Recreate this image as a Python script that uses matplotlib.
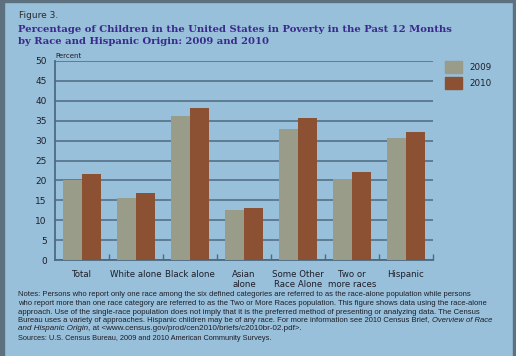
import matplotlib
matplotlib.use("Agg")
import matplotlib.pyplot as plt
from matplotlib.patches import Rectangle
import numpy as np

categories = ["Total", "White alone", "Black alone", "Asian\nalone",
              "Some Other\nRace Alone", "Two or\nmore races", "Hispanic"]
values_2009 = [20.0, 15.7, 36.3, 12.5, 32.8, 20.4, 30.6]
values_2010 = [21.6, 16.9, 38.2, 13.1, 35.6, 22.1, 32.1]
series_labels = ["2009", "2010"]
yticks = [0, 5, 10, 15, 20, 25, 30, 35, 40, 45, 50]

BG = "#98c0da"
C09 = "#999c88"
C10 = "#8c5032"
GRID = "#4e6a80"
TITLE = "#3a2a8c"
TXT = "#1e1e28"

W, H = 516, 356
fig = plt.figure(figsize=(W / 100, H / 100), dpi=100, facecolor=BG)
renderer = fig.canvas.get_renderer()


def fit_text(xpx, ypx, s, target_w, size0, **kw):
    tx = fig.text(xpx / W, 1 - ypx / H, s, fontsize=size0, **kw)
    w = tx.get_window_extent(renderer=renderer).width
    tx.set_fontsize(size0 * target_w / w)
    return tx


def fit_segments(xpx, ypx, segs, target_w, size0=5.0):
    # segs: list of (text, style)
    arts = []
    total = 0.0
    for s, st in segs:
        tx = fig.text(0, 1 - ypx / H, s, fontsize=size0, style=st, color=TXT,
                      va="center", ha="left", family="Liberation Sans")
        total += tx.get_window_extent(renderer=renderer).width
        arts.append(tx)
    scale = target_w / total
    xcur = xpx
    for tx in arts:
        tx.set_fontsize(size0 * scale)
        tx.set_x(xcur / W)
        xcur += tx.get_window_extent(renderer=renderer).width


# border strips
fig.add_artist(Rectangle((0, 0), 4 / W, 1, transform=fig.transFigure, color="#5d7080", zorder=0))
fig.add_artist(Rectangle((0, 1 - 2 / H), 1, 2 / H, transform=fig.transFigure, color="#5d7080", zorder=0))
fig.add_artist(Rectangle((1 - 3 / W, 0), 3 / W, 1, transform=fig.transFigure, color="#5d7080", zorder=0))

l, r, t, b = 55, 433, 61, 260
ax = fig.add_axes([l / W, 1 - b / H, (r - l) / W, (b - t) / H])
ax.set_facecolor(BG)

x = np.arange(len(categories))
bw = 0.35
ax.bar(x - bw / 2, values_2009, width=bw, color=C09, edgecolor="none", zorder=3, label=series_labels[0])
ax.bar(x + bw / 2, values_2010, width=bw, color=C10, edgecolor="none", zorder=3, label=series_labels[1])

ax.set_xlim(-0.5, len(categories) - 0.5)
ax.set_ylim(0, 50)
ax.set_yticks(yticks)
ax.set_yticklabels([str(v) for v in yticks], fontsize=6.5, color=TXT)
ax.yaxis.grid(True, color=GRID, linewidth=1.1, zorder=1)
ax.tick_params(axis="y", length=0, pad=6)

ax.set_xticks(x)
ax.set_xticklabels(categories, fontsize=6.2, color=TXT, linespacing=1.25)
ax.tick_params(axis="x", length=0, pad=7)
ax.set_xticks(np.arange(0.5, len(categories) - 0.4, 1), minor=True)
ax.tick_params(axis="x", which="minor", direction="in", length=4, color=GRID, width=1)

for s in ["top", "right"]:
    ax.spines[s].set_visible(False)
for s in ["left", "bottom"]:
    ax.spines[s].set_color(GRID)
    ax.spines[s].set_linewidth(1.3)

ax.text(0, 1.01, "Percent", transform=ax.transAxes, fontsize=5, color=TXT, ha="left", va="bottom")

# legend
fig.add_artist(Rectangle((445 / W, 1 - 73 / H), 17 / W, 12 / H, transform=fig.transFigure, color=C09))
fig.add_artist(Rectangle((445 / W, 1 - 89 / H), 17 / W, 12 / H, transform=fig.transFigure, color=C10))
fig.text(469 / W, 1 - 67 / H, series_labels[0], fontsize=6.3, color=TXT, va="center", ha="left")
fig.text(469 / W, 1 - 83 / H, series_labels[1], fontsize=6.3, color=TXT, va="center", ha="left")

# titles
fig.text(19 / W, 1 - 16 / H, "Figure 3.", fontsize=6.5, color="#2a2a2a", va="center", ha="left")
t1 = fit_text(18, 29, "Percentage of Children in the United States in Poverty in the Past 12 Months",
              435, 8.0, color=TITLE, fontweight="bold", family="DejaVu Serif", va="center", ha="left")
fig.text(18 / W, 1 - 41 / H, "by Race and Hispanic Origin: 2009 and 2010",
         fontsize=t1.get_fontsize(), color=TITLE, fontweight="bold", family="DejaVu Serif",
         va="center", ha="left")

note_lines = [
    ([("Notes: Persons who report only one race among the six defined categories are referred to as the race-alone population while persons", "normal")], 463),
    ([("who report more than one race category are referred to as the Two or More Races population. This figure shows data using the race-alone", "normal")], 478),
    ([("approach. Use of the single-race population does not imply that it is the preferred method of presenting or analyzing data. The Census", "normal")], 466),
    ([("Bureau uses a variety of approaches. Hispanic children may be of any race. For more information see 2010 Census Brief, ", "normal"),
      ("Overview of Race", "italic")], 478),
    ([("and Hispanic Origin", "italic"),
      (", at <www.census.gov/prod/cen2010/briefs/c2010br-02.pdf>.", "normal")], 287),
]
ys = [295, 303.5, 312, 320.5, 329]
for (segs, wpx), yp in zip(note_lines, ys):
    fit_segments(18, yp, segs, wpx)
fit_text(18, 339, "Sources: U.S. Census Bureau, 2009 and 2010 American Community Surveys.", 262, 5.0,
         color=TXT, va="center", ha="left", family="Liberation Sans")

fig.savefig("out.png", dpi=100, facecolor=BG)
